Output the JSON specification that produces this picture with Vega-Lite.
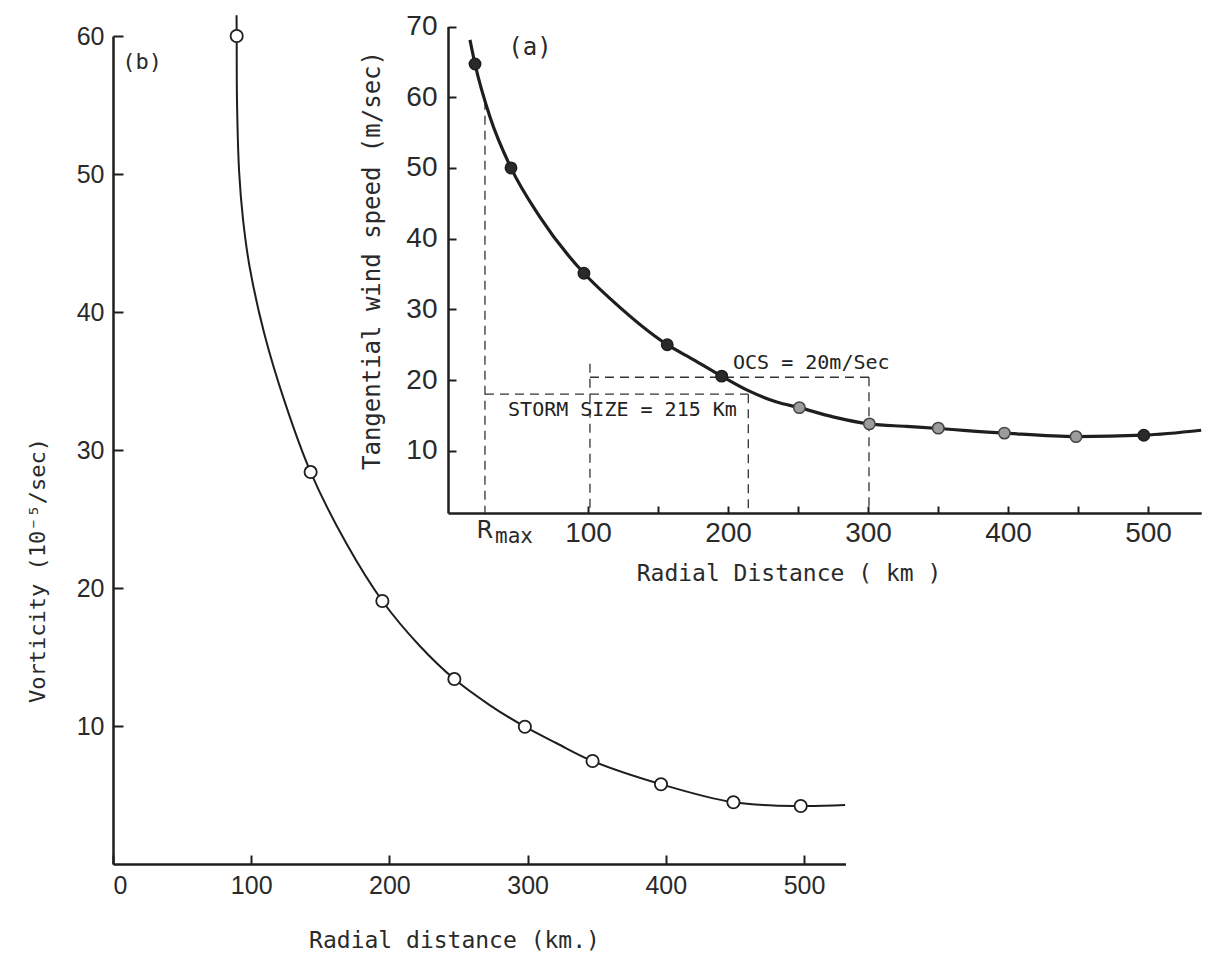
{
  "$schema": "https://vega.github.io/schema/vega-lite/v6.json",
  "width": 1090,
  "height": 850,
  "autosize": "none",
  "padding": {"left": 113, "top": 14, "right": 2, "bottom": 89},
  "background": "white",
  "config": {
    "view": {"stroke": null},
    "axis": {
      "grid": false,
      "domainColor": "#1e1e1e",
      "domainWidth": 2.5,
      "tickColor": "#1e1e1e",
      "tickWidth": 2,
      "labelFont": "Liberation Sans",
      "labelColor": "#2a2a2a",
      "titleFont": "DejaVu Sans Mono",
      "titleColor": "#2a2a2a",
      "titleFontWeight": "normal"
    }
  },
  "datasets": {
    "bcurve": [
      {"x": 89.4, "y": 61.5}, {"x": 89.5, "y": 60.0}, {"x": 89.7, "y": 55.4},
      {"x": 91.3, "y": 50.1}, {"x": 94.1, "y": 46.7}, {"x": 98.8, "y": 43.3}, {"x": 109.3, "y": 38.5},
      {"x": 123.9, "y": 33.6}, {"x": 143, "y": 28.4}, {"x": 169, "y": 23.2},
      {"x": 194.9, "y": 19.06}, {"x": 222, "y": 15.8}, {"x": 247, "y": 13.4},
      {"x": 272.8, "y": 11.5}, {"x": 298, "y": 9.95}, {"x": 321, "y": 8.75},
      {"x": 347, "y": 7.46}, {"x": 396.5, "y": 5.78}, {"x": 448.9, "y": 4.47},
      {"x": 497.6, "y": 4.2}, {"x": 529.7, "y": 4.28}
    ],
    "bpts": [
      {"x": 89.5, "y": 60.0}, {"x": 143, "y": 28.4}, {"x": 194.9, "y": 19.06}, {"x": 247, "y": 13.4},
      {"x": 298, "y": 9.95}, {"x": 347, "y": 7.46}, {"x": 396.5, "y": 5.78}, {"x": 448.9, "y": 4.47},
      {"x": 497.6, "y": 4.2}
    ],
    "btext": [{"x": 21, "y": 58.1, "label": "(b)"}],
    "acurve": [
      {"x": 15.7, "y": 68.1}, {"x": 19.3, "y": 64.7}, {"x": 30, "y": 57.2}, {"x": 45, "y": 50.0},
      {"x": 65.7, "y": 43.05}, {"x": 97.1, "y": 35.1}, {"x": 117, "y": 31.3}, {"x": 156.6, "y": 25.0},
      {"x": 175.2, "y": 22.9}, {"x": 195.5, "y": 20.55}, {"x": 214.5, "y": 18.5}, {"x": 234.8, "y": 16.9},
      {"x": 251, "y": 16.1}, {"x": 275, "y": 14.8}, {"x": 301, "y": 13.8}, {"x": 327.6, "y": 13.45},
      {"x": 350.2, "y": 13.15}, {"x": 397.4, "y": 12.5}, {"x": 448.6, "y": 12.0}, {"x": 497, "y": 12.2},
      {"x": 538, "y": 12.9}
    ],
    "adark": [
      {"x": 19.3, "y": 64.7}, {"x": 45, "y": 50.0}, {"x": 97.1, "y": 35.1}, {"x": 156.6, "y": 25.0},
      {"x": 195.5, "y": 20.55}, {"x": 497, "y": 12.2}
    ],
    "ashade": [
      {"x": 251, "y": 16.1}, {"x": 301, "y": 13.8}, {"x": 350.2, "y": 13.2}, {"x": 397.4, "y": 12.5},
      {"x": 448.6, "y": 12.0}
    ],
    "arules": [
      {"x": 26.4, "y": 59.5, "x2": 26.4, "y2": 1.2},
      {"x": 26.4, "y": 18.0, "x2": 214.5, "y2": 18.0},
      {"x": 214.5, "y": 18.0, "x2": 214.5, "y2": 1.2},
      {"x": 101.4, "y": 22.3, "x2": 101.4, "y2": 1.2},
      {"x": 101.4, "y": 20.4, "x2": 300.7, "y2": 20.4},
      {"x": 300.7, "y": 20.4, "x2": 300.7, "y2": 1.2}
    ],
    "anote": [
      {"x": 203.6, "y": 22.4, "label": "OCS = 20m/Sec"},
      {"x": 42.9, "y": 15.75, "label": "STORM SIZE = 215 Km"}
    ],
    "apanel": [{"x": 58.6, "y": 66.95, "label": "(a)"}],
    "aR": [{"x": 20.3, "y": -2.4, "label": "R"}],
    "amax": [{"x": 33.6, "y": -3.1, "label": "max"}]
  },
  "layer": [
    {
      "encoding": {
        "x": {
          "field": "x", "type": "quantitative",
          "scale": {"domain": [0, 530], "range": [0, 732.5], "nice": false, "zero": false},
          "axis": {
            "orient": "bottom", "values": [0, 100, 200, 300, 400, 500],
            "tickSize": -9, "labelPadding": 18, "labelFontSize": 25, "labelDx": 5,
            "title": "Radial distance (km.)", "titleFontSize": 23,
            "titleX": 341, "titleY": 76, "titleAlign": "center", "titleBaseline": "middle"
          }
        },
        "y": {
          "field": "y", "type": "quantitative",
          "scale": {"domain": [0, 60], "range": [850, 22], "nice": false, "zero": false},
          "axis": {
            "orient": "left", "values": [10, 20, 30, 40, 50, 60],
            "tickSize": -10, "labelPadding": 19, "labelFontSize": 25,
            "title": "Vorticity (10⁻⁵/sec)", "titleFontSize": 22,
            "titleX": -76, "titleY": 556, "titleAngle": -90, "titleAlign": "center", "titleBaseline": "middle"
          }
        }
      },
      "layer": [
        {
          "data": {"name": "bcurve"},
          "mark": {"type": "line", "interpolate": "catmull-rom", "color": "#1e1e1e", "strokeWidth": 2}
        },
        {
          "data": {"name": "bpts"},
          "mark": {"type": "point", "shape": "circle", "size": 150, "filled": true, "fill": "white", "stroke": "#1e1e1e", "strokeWidth": 1.8, "opacity": 1}
        },
        {
          "data": {"name": "btext"},
          "mark": {"type": "text", "font": "DejaVu Sans Mono", "fontSize": 22, "color": "#2a2a2a", "align": "center", "baseline": "middle"},
          "encoding": {"text": {"field": "label"}}
        }
      ]
    },
    {
      "encoding": {
        "x": {
          "field": "x", "type": "quantitative",
          "scale": {"domain": [0, 538], "range": [335, 1088.2], "nice": false, "zero": false},
          "axis": {
            "orient": "bottom", "offset": -351, "values": [100, 150, 200, 250, 300, 350, 400, 450, 500],
            "labelExpr": "datum.value % 100 === 0 ? datum.label : ''",
            "tickSize": -7, "labelPadding": 13.5, "labelFontSize": 28, "labelDx": 7,
            "title": "Radial Distance ( km )", "titleFontSize": 23,
            "titleX": 675.5, "titleY": 60, "titleAlign": "center", "titleBaseline": "middle"
          }
        },
        "y": {
          "field": "y", "type": "quantitative",
          "scale": {"domain": [1.2, 70], "range": [499, 12.5], "nice": false, "zero": false},
          "axis": {
            "orient": "left", "offset": -335, "values": [10, 20, 30, 40, 50, 60, 70],
            "tickSize": -8, "labelPadding": 19, "labelFontSize": 28,
            "title": "Tangential wind speed (m/sec)", "titleFontSize": 24,
            "titleX": -76, "titleY": 246, "titleAngle": -90, "titleAlign": "center", "titleBaseline": "middle"
          }
        }
      },
      "layer": [
        {
          "data": {"name": "arules"},
          "mark": {"type": "rule", "color": "#333333", "strokeWidth": 1.3, "strokeDash": [9, 6]},
          "encoding": {"x2": {"field": "x2"}, "y2": {"field": "y2"}}
        },
        {
          "data": {"name": "acurve"},
          "mark": {"type": "line", "interpolate": "monotone", "color": "#1e1e1e", "strokeWidth": 3.2}
        },
        {
          "data": {"name": "adark"},
          "mark": {"type": "point", "shape": "circle", "size": 130, "filled": true, "fill": "#2a2a2a", "stroke": "#1e1e1e", "strokeWidth": 1.5, "opacity": 1}
        },
        {
          "data": {"name": "ashade"},
          "mark": {"type": "point", "shape": "circle", "size": 130, "filled": true, "fill": "#9c9c9c", "stroke": "#444444", "strokeWidth": 1.5, "opacity": 1}
        },
        {
          "data": {"name": "anote"},
          "mark": {"type": "text", "font": "DejaVu Sans Mono", "fontSize": 20, "color": "#222222", "align": "left", "baseline": "middle"},
          "encoding": {"text": {"field": "label"}}
        },
        {
          "data": {"name": "apanel"},
          "mark": {"type": "text", "font": "DejaVu Sans Mono", "fontSize": 24, "color": "#2a2a2a", "align": "center", "baseline": "middle"},
          "encoding": {"text": {"field": "label"}}
        },
        {
          "data": {"name": "aR"},
          "mark": {"type": "text", "font": "DejaVu Sans", "fontSize": 24, "color": "#2a2a2a", "align": "left", "baseline": "alphabetic"},
          "encoding": {"text": {"field": "label"}}
        },
        {
          "data": {"name": "amax"},
          "mark": {"type": "text", "font": "DejaVu Sans Mono", "fontSize": 21, "color": "#2a2a2a", "align": "left", "baseline": "alphabetic"},
          "encoding": {"text": {"field": "label"}}
        }
      ]
    }
  ],
  "resolve": {
    "scale": {"x": "independent", "y": "independent"},
    "axis": {"x": "independent", "y": "independent"}
  }
}
